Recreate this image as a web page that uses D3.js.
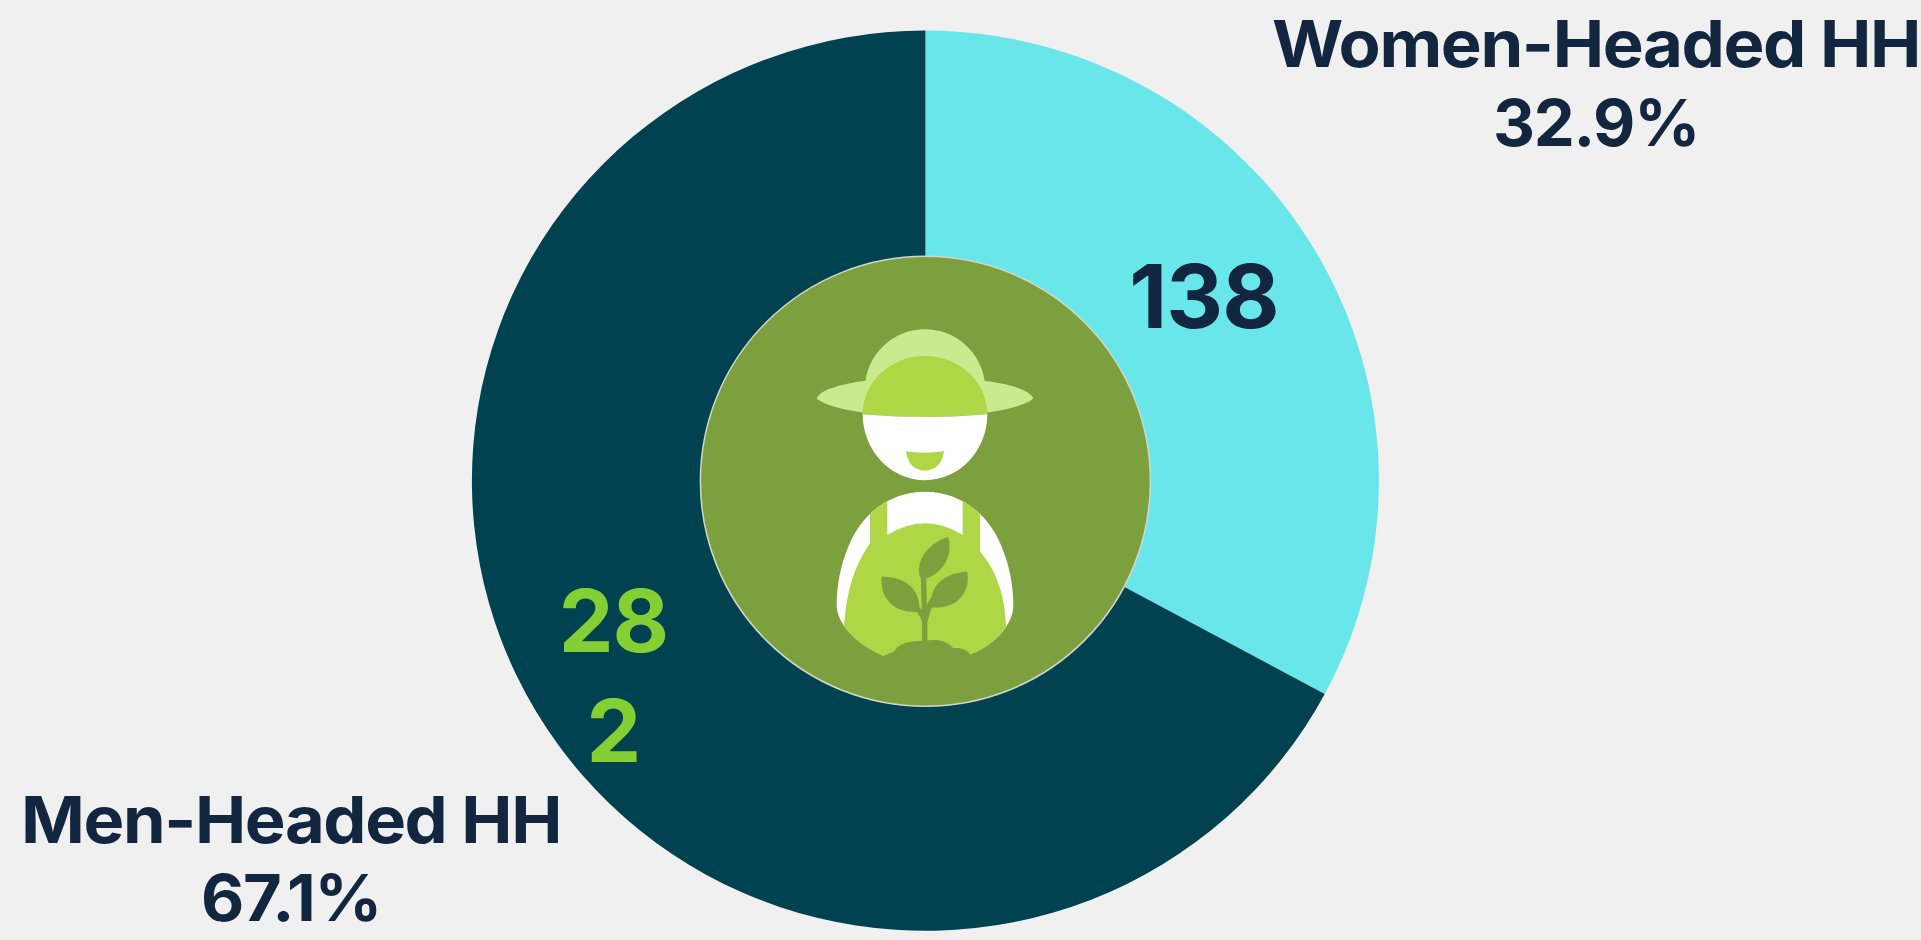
<!DOCTYPE html>
<html>
<head>
<meta charset="utf-8">
<script src="https://cdn.jsdelivr.net/npm/d3@7"></script>
<style>
html,body{margin:0;padding:0;background:#f0f0f0;overflow:hidden}
svg{display:block}
text{font-family:Inter,"Noto Sans",sans-serif;font-weight:700;letter-spacing:-0.02em}
text.num{font-weight:700;letter-spacing:-0.01em}
</style>
</head>
<body>
<svg id="chart" width="1921" height="940"></svg>
<script>
const categories = ["Women-Headed HH", "Men-Headed HH"];
const values = [138, 282];
const shareLabels = ["32.9%", "67.1%"];
const valueLabelLines = [["138"], ["28", "2"]];
const sliceColors = ["#69e6ea", "#00424f"];
const valueColors = ["#12263f", "#84cf33"];

const W = 1921, H = 940, cx = 925.4, cy = 481, outerR = 453.5, innerR = 225;
const svg = d3.select("#chart");

const pie = d3.pie().sort(null).value(d => d);
const arc = d3.arc().innerRadius(innerR - 2).outerRadius(outerR);
const arcs = pie(values);

const g = svg.append("g").attr("transform", `translate(${cx},${cy - 0.3}) scale(1,0.9925)`);
g.selectAll("path.slice").data(arcs).join("path")
  .attr("class", "slice")
  .attr("d", arc)
  .attr("fill", (d, i) => sliceColors[i]);

// Centre badge
svg.append("circle").attr("cx", cx).attr("cy", cy + 0.3).attr("r", innerR)
  .attr("fill", "#7da03f").attr("stroke", "#d2d6cc").attr("stroke-width", 1.5);

// Farmer icon (decoration, drawn in a 3x local space)
const defs = svg.append("defs");
const bodyPath = "M705,725 C810,725 895,790 935,890 C958,945 970,1005 970,1065 C970,1130 905,1190 840,1213 L580,1217 C515,1190 440,1130 440,1065 C440,1005 452,945 475,890 C515,790 600,725 705,725Z";
defs.append("clipPath").attr("id", "bodyClip").append("path").attr("d", bodyPath);
const icon = svg.append("g").attr("transform", "translate(690,250) scale(0.33333)");
const LIGHT = "#cbe98f", LIME = "#afd645", GRN = "#7da03f";
icon.append("path").attr("fill", LIGHT)
  .attr("d", "M526,392 A181,181 0 0 1 884,392 C960,402 1020,420 1030,445 C1005,472 880,500 705,500 C530,500 405,472 380,445 C390,420 450,402 526,392Z");
icon.append("path").attr("fill", LIME)
  .attr("d", "M518,493 A187,175 0 0 1 892,493 C840,498 770,500 705,500 C640,500 570,498 518,493Z");
icon.append("path").attr("fill", "#fff")
  .attr("d", "M518,493 C570,498 640,501 705,501 C770,501 840,498 892,492 A187,198 0 0 1 518,493Z");
icon.append("path").attr("fill", LIME)
  .attr("d", "M648,604 Q705,612 762,604 C757,642 735,662 705,662 C675,662 653,642 648,604Z");
icon.append("path").attr("fill", "#fff").attr("d", bodyPath);
icon.append("path").attr("fill", LIME).attr("clip-path", "url(#bodyClip)")
  .attr("d", "M540,740 L592,740 L592,855 Q705,785 818,855 L818,740 L870,740 L870,905 C920,960 945,1040 948,1125 L948,1300 L462,1300 L462,1125 C470,1030 490,950 540,880Z");
// Plant
icon.append("path").attr("fill", GRN).attr("d", "M775,860 C722,878 680,920 688,975 C690,985 700,988 712,985 C755,965 790,925 775,860Z");
icon.append("path").attr("fill", GRN).attr("d", "M575,980 C640,980 692,1010 688,1085 C620,1092 568,1050 575,980Z");
icon.append("path").attr("fill", GRN).attr("d", "M832,965 C770,968 718,1000 722,1072 C800,1078 842,1030 832,965Z");
icon.append("path").attr("fill", "none").attr("stroke", GRN).attr("stroke-width", 16)
  .attr("d", "M704,1175 L704,1115 C704,1095 680,1075 660,1050 M704,1115 C712,1095 712,1060 738,1040 M704,1115 L700,960");
icon.append("path").attr("fill", GRN)
  .attr("d", "M580,1217 L612,1205 C625,1182 660,1170 700,1174 C735,1165 770,1170 790,1195 C810,1192 830,1198 840,1213 L840,1250 L580,1250Z");

// Value labels
const valueData = [
  {lines: valueLabelLines[0], color: valueColors[0], x: 1204, y: [328], size: 88},
  {lines: valueLabelLines[1], color: valueColors[1], x: 613.5, y: [652, 761.5], size: 87}
];
valueData.forEach(v => {
  v.lines.forEach((t, i) => {
    svg.append("text").attr("class", "num").text(t).attr("x", v.x).attr("y", v.y[i])
      .attr("text-anchor", "middle").attr("font-size", v.size).attr("fill", v.color);
  });
});

// Category labels
const labelData = [
  {name: categories[0], share: shareLabels[0], x: 1596, y: [66.5, 145.5], len: [648, 206]},
  {name: categories[1], share: shareLabels[1], x: 291, y: [842.5, 920.5], len: [540, 180]}
];
labelData.forEach(l => {
  [l.name, l.share].forEach((t, i) => {
    svg.append("text").text(t).attr("x", l.x).attr("y", l.y[i])
      .attr("text-anchor", "middle").attr("font-size", 65).attr("fill", "#12263f")
      .attr("textLength", l.len[i]).attr("lengthAdjust", "spacingAndGlyphs");
  });
});
</script>
</body>
</html>
